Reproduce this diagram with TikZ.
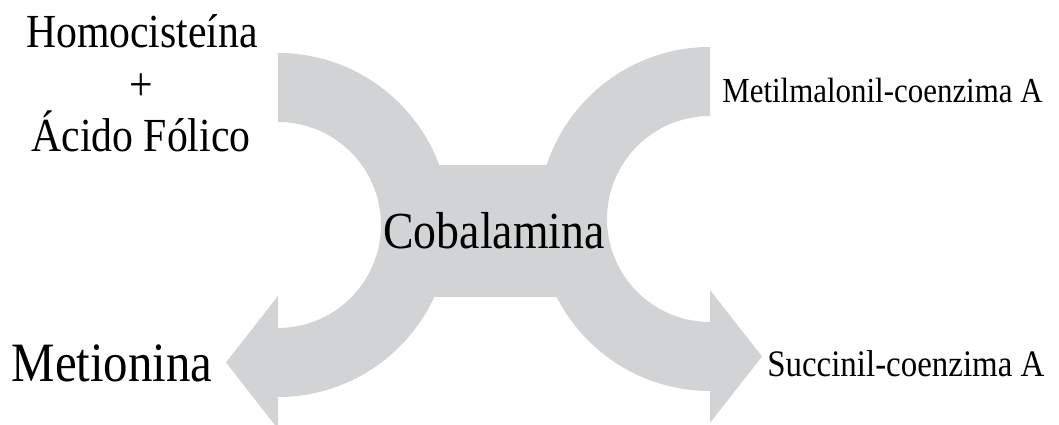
\documentclass[tikz,border=0pt]{standalone}
\usepackage{fontspec}
\setmainfont{Liberation Serif}
\definecolor{grisflecha}{RGB}{209,211,212}
\newcommand{\tamletra}[1]{\fontsize{#1pt}{#1pt}\selectfont}
\newcommand{\flechacurva}{%
  \fill[grisflecha] (0,172) arc[start angle=90, end angle=-90, radius=172]
    -- (0,-204) -- (-52,-137.5) -- (0,-71) -- (0,-103)
    arc[start angle=-90, end angle=90, radius=103] -- cycle;}

\begin{document}
\begin{tikzpicture}[x=0.02cm, y=0.02cm,
    etiqueta/.style={inner sep=0pt, anchor=base, xscale=0.88, transform shape}]
  \useasboundingbox (0,0) rectangle (1059,425);
  % flechas curvas y barra central
  \begin{scope}[shift={(278,200)}] \flechacurva \end{scope}
  \begin{scope}[shift={(710,206)}, xscale=-1] \flechacurva \end{scope}
  \fill[grisflecha] (400,128) rectangle (585,260);
  % textos
  \node[etiqueta, font=\tamletra{27}] (homo) at (142,377) {Homocisteína};
  \node[etiqueta, font=\tamletra{27}] (mas) at (141,324) {+};
  \node[etiqueta, font=\tamletra{27}] (folico) at (141,273) {Ácido Fólico};
  \node[etiqueta, font=\tamletra{31.6}] (metionina) at (112,43) {Metionina};
  \node[etiqueta, font=\tamletra{29.6}] (cobalamina) at (494,176) {Cobalamina};
  \node[etiqueta, anchor=base west, font=\tamletra{20}] (metil) at (722,322) {Metilmalonil-coenzima A};
  \node[etiqueta, anchor=base west, font=\tamletra{21.3}] (succinil) at (767,48) {Succinil-coenzima A};
\end{tikzpicture}
\end{document}
